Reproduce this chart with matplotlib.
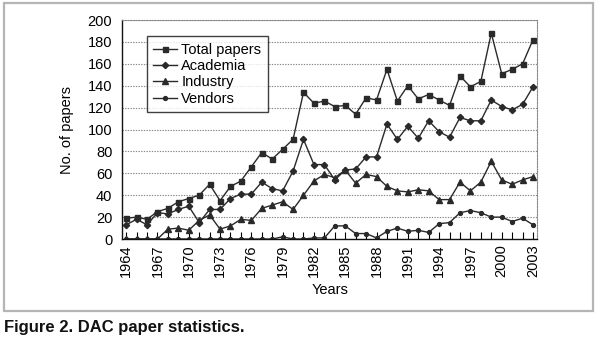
import matplotlib
matplotlib.use("Agg")
import matplotlib.pyplot as plt
from matplotlib.patches import FancyBboxPatch
import numpy as np

years = list(range(1964, 2004))
total = [19, 20, 18, 25, 28, 34, 37, 40, 50, 35, 48, 53, 66, 79, 73, 82,
         91, 134, 124, 126, 121, 122, 114, 129, 127, 155, 126, 140, 128, 132,
         127, 122, 149, 139, 144, 188, 151, 155, 160, 182]
academia = [13, 18, 13, 24, 23, 27, 30, 15, 27, 27, 37, 41, 41, 52, 46, 44,
            62, 91, 68, 68, 54, 63, 64, 75, 75, 105, 91, 103, 92, 108,
            98, 93, 111, 108, 108, 127, 121, 118, 123, 139]
industry = [0, 0, 0, 0, 9, 10, 8, 17, 22, 9, 12, 18, 17, 28, 31, 34,
            27, 40, 53, 59, 56, 63, 51, 59, 57, 48, 44, 43, 45, 44,
            36, 36, 52, 44, 52, 71, 54, 50, 54, 57]
vendors = [0, 0, 0, 0, 0, 0, 0, 0, 0, 0, 0, 0, 0, 0, 0, 2,
           0, 0, 1, 1, 12, 12, 5, 5, 1, 7, 10, 7, 8, 6,
           14, 15, 24, 26, 24, 20, 20, 16, 19, 13]
series_labels = ["Total papers", "Academia", "Industry", "Vendors"]
xtick_years = list(range(1964, 2004, 3))
yticks = list(range(0, 201, 20))

plt.rcParams['font.family'] = ['Liberation Sans', 'DejaVu Sans']

fig = plt.figure(figsize=(6.0, 3.4), dpi=100)

# outer gray frame
frame = FancyBboxPatch((0.006, 0.086), 0.982, 0.905,
                       boxstyle="square,pad=0", transform=fig.transFigure,
                       fill=False, edgecolor="#b5b5b5", linewidth=1.6)
fig.patches.append(frame)

ax = fig.add_axes([0.2033, 0.297, 0.692, 0.644])

lc = "#2a2a2a"
ax.plot(years, total, color=lc, lw=1.0, marker='s', ms=3.6, label=series_labels[0])
ax.plot(years, academia, color=lc, lw=1.0, marker='D', ms=3.2, label=series_labels[1])
ax.plot(years, industry, color=lc, lw=1.0, marker='^', ms=3.8, label=series_labels[2])
ax.plot(years, vendors, color=lc, lw=1.0, marker='o', ms=2.8, label=series_labels[3])

ax.set_xlim(1963.6, 2003.4)
ax.set_ylim(0, 200)
ax.set_yticks(yticks)
ax.set_xticks(xtick_years)
ax.set_xticks(years, minor=True)
ax.set_xticklabels([str(y) for y in xtick_years], rotation=90, fontsize=10.5)
ax.tick_params(axis='y', length=0, labelsize=10.5, pad=7)
ax.tick_params(axis='x', which='both', direction='in', length=5, width=0.8, pad=4)

ax.grid(axis='y', linestyle=(0, (1.2, 1.2)), color="#888888", lw=0.8)
ax.set_axisbelow(True)
for s in ['top', 'right']:
    ax.spines[s].set_linestyle((0, (1.2, 1.2)))
    ax.spines[s].set_color("#888888")
    ax.spines[s].set_linewidth(0.8)
for s in ['left', 'bottom']:
    ax.spines[s].set_color("#111111")
    ax.spines[s].set_linewidth(1.0)

ax.set_xlabel("Years", fontsize=10.5, labelpad=4)
ax.set_ylabel("No. of papers", fontsize=10.5, labelpad=10)

leg = ax.legend(loc='upper left', bbox_to_anchor=(0.06, 0.925), fontsize=10.5,
                frameon=True, fancybox=False, handlelength=1.6,
                handletextpad=0.3, labelspacing=0.15, borderpad=0.45,
                borderaxespad=0)
leg.get_frame().set_edgecolor("#111111")
leg.get_frame().set_linewidth(1.0)

fig.text(0.006, 0.038, "Figure 2. DAC paper statistics.", fontsize=12,
         fontweight='heavy', va='center', ha='left', color="#111111")

fig.savefig("out.png", dpi=100)
